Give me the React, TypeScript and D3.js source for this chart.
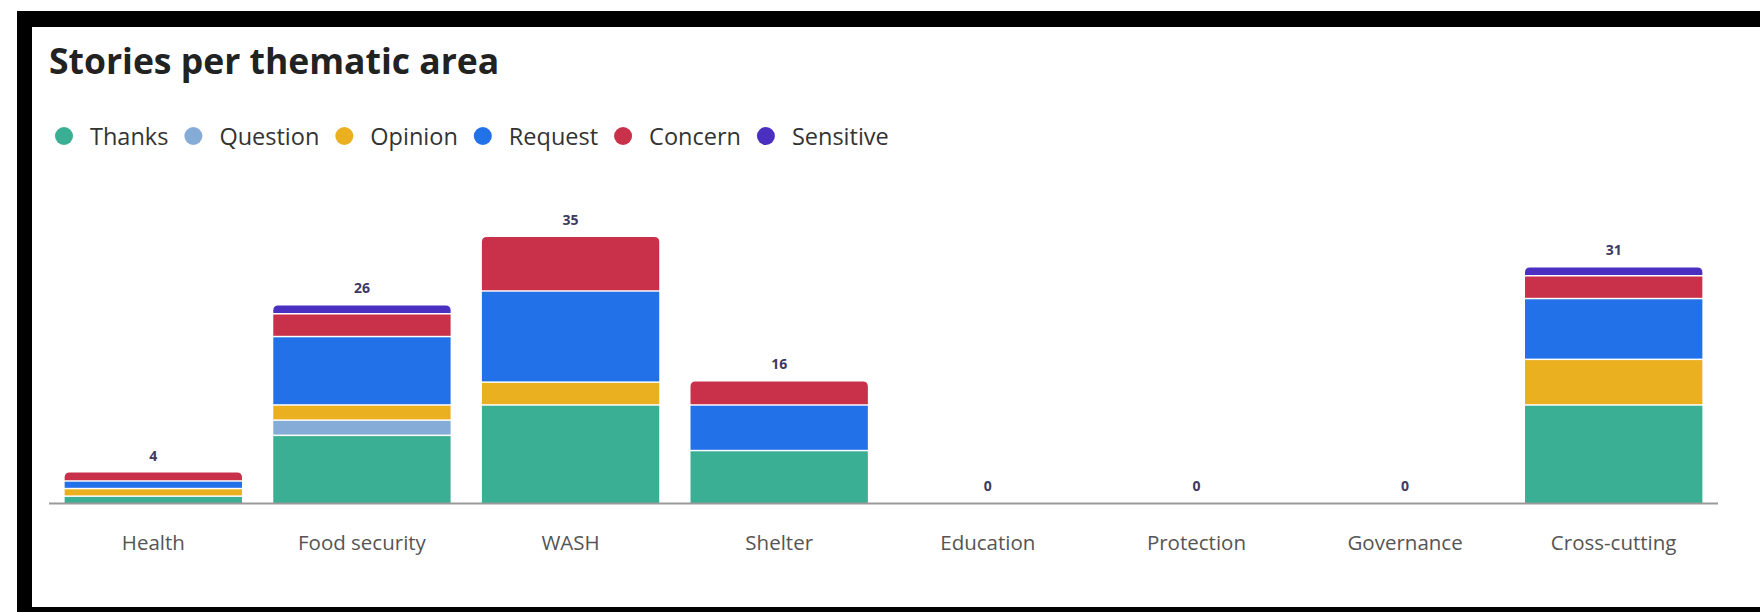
import React, { useEffect, useRef } from "react";
import * as d3 from "d3";

const categories = ["Health", "Food security", "WASH", "Shelter", "Education", "Protection", "Governance", "Cross-cutting"];
const seriesNames = ["Thanks", "Question", "Opinion", "Request", "Concern", "Sensitive"];
const thanks = [1, 9, 13, 7, 0, 0, 0, 13];
const question = [0, 2, 0, 0, 0, 0, 0, 0];
const opinion = [1, 2, 3, 0, 0, 0, 0, 6];
const request = [1, 9, 12, 6, 0, 0, 0, 8];
const concern = [1, 3, 7, 3, 0, 0, 0, 3];
const sensitive = [0, 1, 0, 0, 0, 0, 0, 1];
const colors = ["#3aaf94", "#85acd6", "#eab01f", "#2271e8", "#c9304a", "#4a2fc0"];

const W = 1760;
const H = 612;
const FONT = "'Open Sans', 'Noto Sans', sans-serif";

export default function App() {
  const ref = useRef<SVGSVGElement | null>(null);

  useEffect(() => {
    const svg = d3.select(ref.current);
    svg.selectAll("*").remove();

    // frame
    svg.append("rect").attr("x", 0).attr("y", 0).attr("width", W).attr("height", H).attr("fill", "#fff");
    svg.append("rect").attr("x", 17).attr("y", 11).attr("width", W - 17).attr("height", H - 11).attr("fill", "#000");
    svg.append("rect").attr("x", 32).attr("y", 27).attr("width", W - 32).attr("height", 607 - 27).attr("fill", "#fff");

    // title
    svg.append("text")
      .attr("x", 49).attr("y", 74)
      .attr("font-family", FONT).attr("font-weight", 700).attr("font-size", 35.5)
      .attr("fill", "#222")
      .text("Stories per thematic area");

    // legend
    const lg = svg.append("g");
    let lx = 64;
    seriesNames.forEach((name, i) => {
      lg.append("circle").attr("cx", lx).attr("cy", 136).attr("r", 9).attr("fill", colors[i]);
      const t = lg.append("text")
        .attr("x", lx + 26).attr("y", 144.5)
        .attr("font-family", FONT).attr("font-size", 23.5).attr("fill", "#333")
        .text(name);
      const w = (t.node() as SVGTextElement).getComputedTextLength();
      lx = lx + 26 + w + 25;
    });

    // data
    const rows = categories.map((c, i) => ({
      cat: c,
      Thanks: thanks[i], Question: question[i], Opinion: opinion[i],
      Request: request[i], Concern: concern[i], Sensitive: sensitive[i],
    }));
    const totals = rows.map(r => seriesNames.reduce((s, k) => s + (r as any)[k], 0));

    const x = d3.scaleBand<string>().domain(categories).range([49, 1718]).paddingInner(0.15).paddingOuter(0.075);
    const y = d3.scaleLinear().domain([0, 35]).range([503, 237]);

    const stack = d3.stack<any>().keys(seriesNames);
    const series = stack(rows);

    const topIdx = rows.map(r => {
      let idx = -1;
      seriesNames.forEach((k, j) => { if ((r as any)[k] > 0) idx = j; });
      return idx;
    });

    const bars = svg.append("g");
    const rad = 5;
    series.forEach((s, j) => {
      s.forEach((d, i) => {
        if (d[1] - d[0] <= 0) return;
        const x0 = x(categories[i])!;
        const bw = x.bandwidth();
        const yb = y(d[0]);
        const yt = y(d[1]) + (j === topIdx[i] ? 0 : 1.5);
        if (j === topIdx[i]) {
          const p = d3.path();
          p.moveTo(x0, yb);
          p.lineTo(x0, yt + rad);
          p.quadraticCurveTo(x0, yt, x0 + rad, yt);
          p.lineTo(x0 + bw - rad, yt);
          p.quadraticCurveTo(x0 + bw, yt, x0 + bw, yt + rad);
          p.lineTo(x0 + bw, yb);
          p.closePath();
          bars.append("path").attr("d", p.toString()).attr("fill", colors[j]);
        } else {
          bars.append("rect").attr("x", x0).attr("y", yt).attr("width", bw).attr("height", Math.max(0, yb - yt)).attr("fill", colors[j]);
        }
      });
    });

    // axis line
    svg.append("line").attr("x1", 49).attr("x2", 1718).attr("y1", 503.5).attr("y2", 503.5)
      .attr("stroke", "#9a9a9a").attr("stroke-width", 2);

    // total labels
    svg.append("g").selectAll("text").data(categories).join("text")
      .attr("x", c => x(c)! + x.bandwidth() / 2)
      .attr("y", (c, i) => y(totals[i]) - 12)
      .attr("text-anchor", "middle")
      .attr("font-family", FONT).attr("font-weight", 700).attr("font-size", 14)
      .attr("fill", "#3d3a62")
      .text((c, i) => String(totals[i]));

    // category labels
    svg.append("g").selectAll("text").data(categories).join("text")
      .attr("x", c => x(c)! + x.bandwidth() / 2)
      .attr("y", 550)
      .attr("text-anchor", "middle")
      .attr("font-family", FONT).attr("font-size", 20.5)
      .attr("fill", "#555")
      .text(c => c);
  }, []);

  return (
    <svg ref={ref} width={W} height={H} style={{ position: "absolute", left: 0, top: 0, display: "block" }} />
  );
}
